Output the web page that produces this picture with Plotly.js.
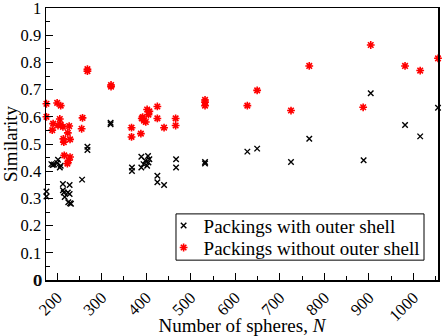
<!DOCTYPE html>
<html>
<head>
<meta charset="utf-8">
<script src="https://cdn.plot.ly/plotly-3.0.1.min.js"></script>
<style>
  html, body { margin: 0; padding: 0; background: #fff; }
  #grafico { width: 443px; height: 336px; }
</style>
</head>
<body>
<div id="grafico"></div>
<script>
// Packings with outer shell (black x)
const nConCapa = [176, 176, 187, 190, 193, 200, 202, 206, 208, 213, 213, 215, 217, 224, 225, 228, 228, 229, 231, 256,
  268, 268, 320, 320, 368, 368, 389, 389, 394, 398, 402, 404, 405, 407, 425, 425, 440, 467, 467, 532,
  532, 627, 649, 725, 766, 888, 904, 981, 1015, 1055];
const simConCapa = [0.325, 0.307, 0.426, 0.423, 0.425, 0.43, 0.442, 0.414, 0.42, 0.353, 0.33, 0.322, 0.305, 0.322, 0.286, 0.349, 0.316, 0.282, 0.28, 0.369,
  0.49, 0.478, 0.578, 0.573, 0.414, 0.401, 0.453, 0.414, 0.426, 0.438, 0.42, 0.456, 0.432, 0.444, 0.383, 0.359, 0.349, 0.444, 0.414, 0.434,
  0.428, 0.472, 0.483, 0.434, 0.519, 0.44, 0.687, 0.57, 0.528, 0.633];

// Packings without outer shell (red asterisks)
const nSinCapa = [176, 176, 189, 191, 200, 202, 206, 208, 208, 213, 214, 215, 216, 223, 224, 226, 227, 229, 229, 255,
  257, 268, 268, 321, 321, 367, 367, 388, 390, 392, 395, 399, 402, 405, 407, 425, 425, 440, 466, 466,
  532, 532, 532, 627, 649, 725, 766, 887, 904, 981, 1015, 1055];
const simSinCapa = [0.648, 0.6, 0.551, 0.575, 0.651, 0.568, 0.592, 0.641, 0.571, 0.563, 0.519, 0.507, 0.458, 0.428, 0.541, 0.44, 0.566, 0.517, 0.452, 0.556,
  0.596, 0.775, 0.768, 0.717, 0.711, 0.56, 0.526, 0.538, 0.594, 0.599, 0.586, 0.581, 0.627, 0.608, 0.62, 0.638, 0.594, 0.56, 0.594, 0.568,
  0.662, 0.654, 0.641, 0.641, 0.697, 0.623, 0.787, 0.635, 0.864, 0.787, 0.77, 0.815];

// marcas del eje y
const yTicks = [0, 0.1, 0.2, 0.3, 0.4, 0.5, 0.6, 0.7, 0.8, 0.9, 1];
const yTickText = ['0', '0.1', '0.2', '0.3', '0.4', '0.5', '0.6', '0.7', '0.8', '0.9', '1'];

const fuente = 'Liberation Serif, Times New Roman, serif';

const data = [
  {
    x: nConCapa,
    y: simConCapa,
    mode: 'markers',
    type: 'scatter',
    name: 'Packings with outer shell',
    legend: 'legend',
    cliponaxis: false,
    marker: { symbol: 'x-thin-open', size: 5.5, color: '#000', line: { color: '#000', width: 1.4 } }
  },
  {
    x: nSinCapa,
    y: simSinCapa,
    mode: 'markers',
    type: 'scatter',
    name: 'Packings without outer shell',
    legend: 'legend2',
    cliponaxis: false,
    marker: { symbol: 'asterisk-open', size: 6.5, color: '#ff0000', line: { color: '#ff0000', width: 1.6 } }
  }
];

// una leyenda por serie, con la caja dibujada aparte para juntar las filas
const leyendaBase = {
  xanchor: 'left', yanchor: 'middle',
  borderwidth: 0, bgcolor: 'rgba(0,0,0,0)',
  font: { family: fuente, size: 19 },
  itemwidth: 30
};

const layout = {
  width: 443,
  height: 336,
  margin: { l: 46, r: 5, t: 8, b: 56 },
  paper_bgcolor: '#fff',
  plot_bgcolor: '#fff',
  font: { family: fuente, size: 16.5, color: '#000' },
  showlegend: true,
  legend: Object.assign({}, leyendaBase, { x: 0.3, y: 0.2 }),
  legend2: Object.assign({}, leyendaBase, { x: 0.3, y: 0.119 }),
  shapes: [{
    type: 'rect', xref: 'paper', yref: 'paper',
    x0: 0.3316, x1: 0.9643, y0: 0.073, y1: 0.243,
    line: { color: '#000', width: 1 }, fillcolor: '#fff', layer: 'above'
  }],
  // plotly esconde la etiqueta 0 del eje y (choca con las del eje x), se pone aparte
  annotations: [{
    xref: 'paper', yref: 'y', x: 0, y: yTicks[0], text: yTickText[0],
    xanchor: 'right', yanchor: 'middle', xshift: -2, showarrow: false,
    font: { family: fuente, size: 16.5, color: '#000' }
  }],
  xaxis: {
    title: { text: 'Number of spheres, <i>N</i>', font: { size: 19 }, standoff: 6 },
    range: [175, 1055],
    dtick: 100, tick0: 0,
    ticks: 'inside', ticklen: 7, tickcolor: '#000', tickwidth: 1,
    minor: { dtick: 50, ticks: 'inside', ticklen: 4, tickcolor: '#000' },
    tickangle: -45,
    ticklabeloverflow: 'allow',
    showgrid: false, zeroline: false,
    showline: true, linecolor: '#000', linewidth: 1.5, mirror: true
  },
  yaxis: {
    title: { text: 'Similarity', font: { size: 19 }, standoff: 4 },
    range: [0, 1],
    tickmode: 'array', tickvals: yTicks, ticktext: yTickText,
    ticks: 'inside', ticklen: 7, tickcolor: '#000', tickwidth: 1,
    minor: { dtick: 0.05, tick0: 0, ticks: 'inside', ticklen: 4, tickcolor: '#000' },
    ticklabeloverflow: 'allow',
    showgrid: false, zeroline: false,
    showline: true, linecolor: '#000', linewidth: 1.5, mirror: true
  }
};

Plotly.newPlot('grafico', data, layout, { displayModeBar: false, staticPlot: true });
</script>
</body>
</html>
